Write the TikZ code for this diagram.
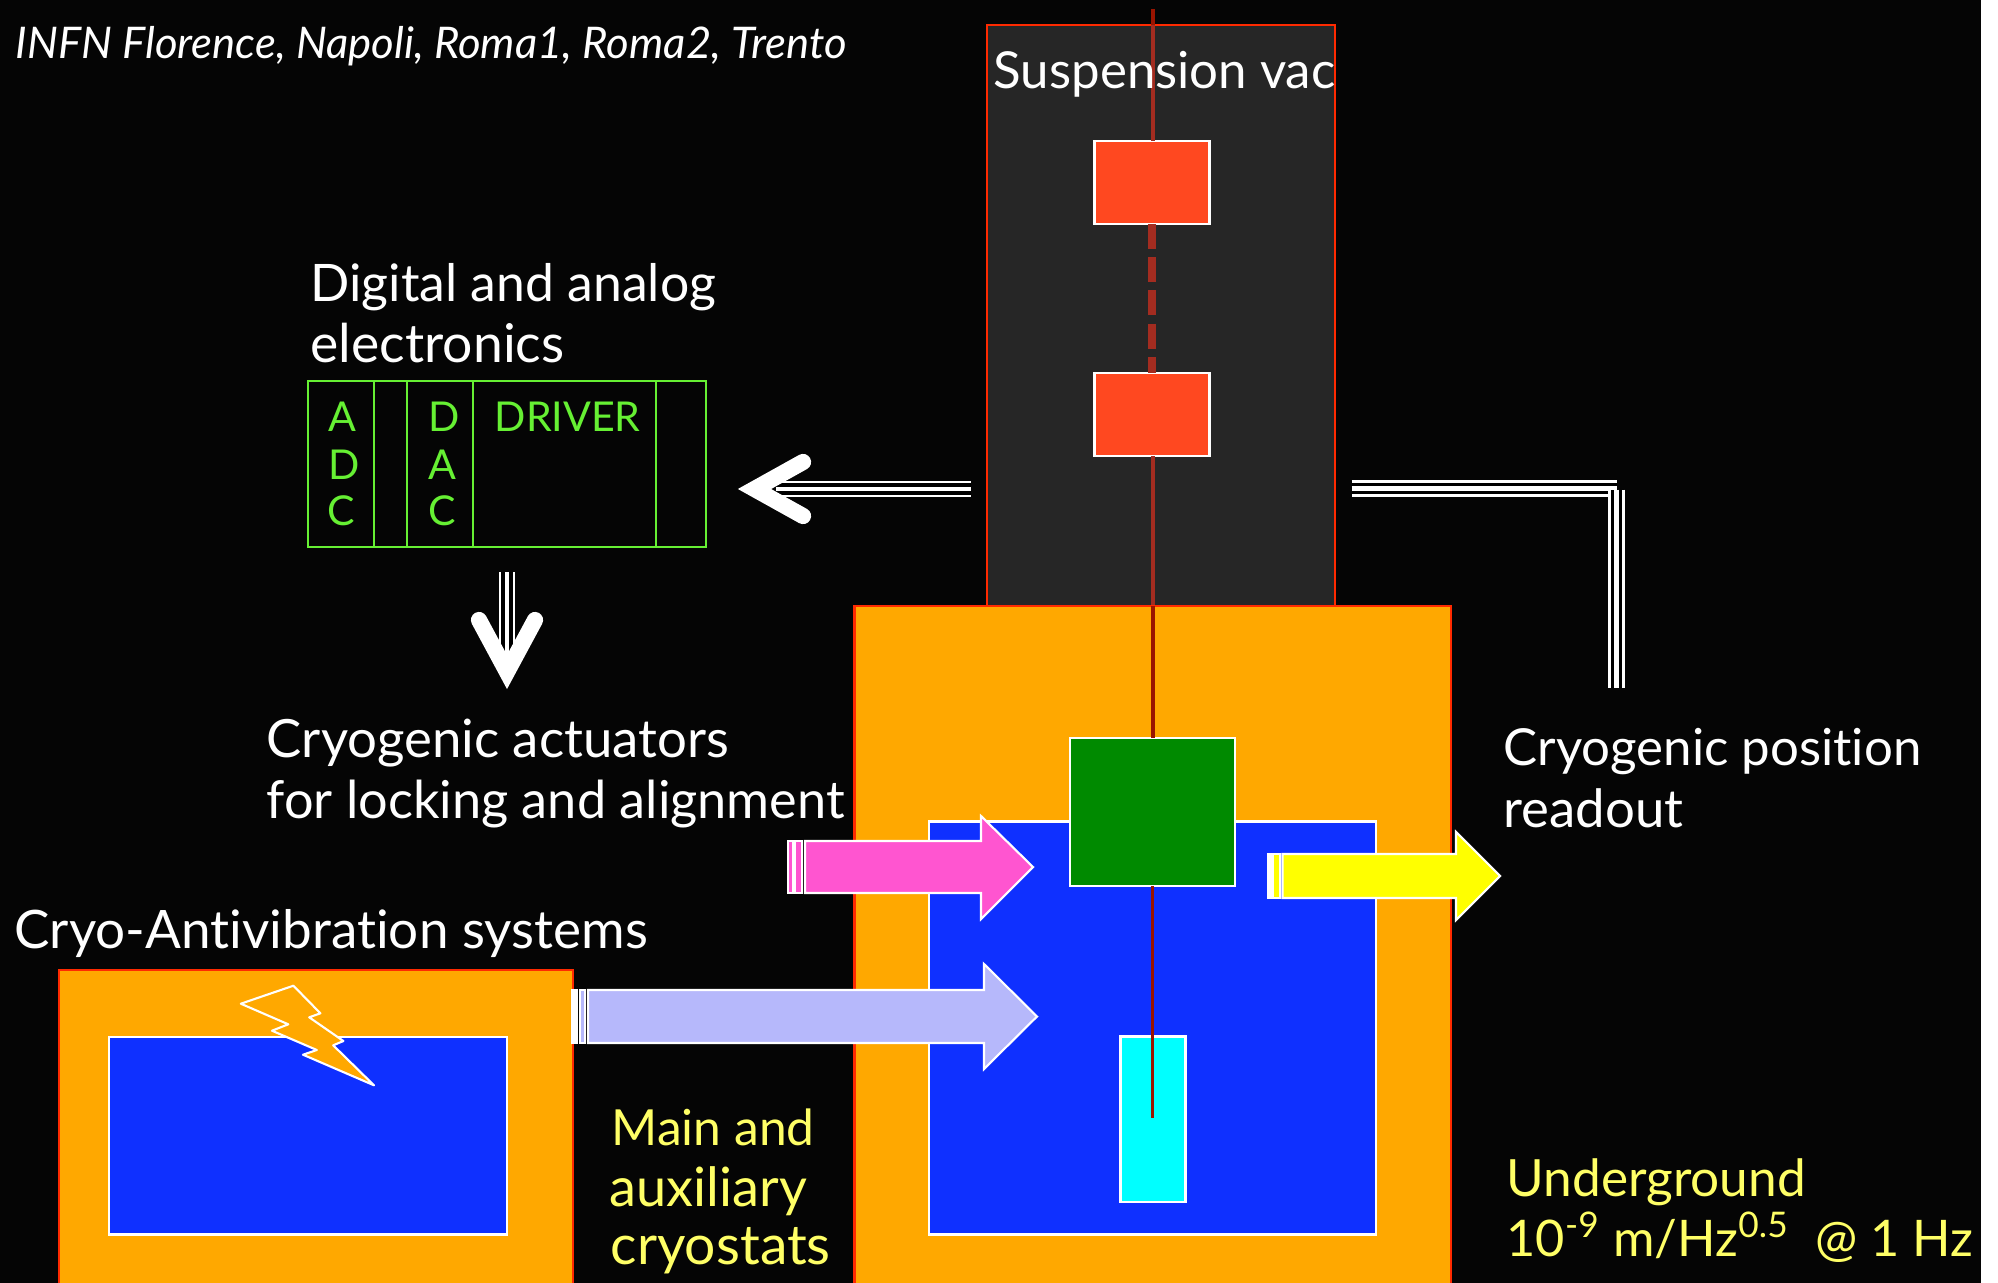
\documentclass[tikz,border=0pt]{standalone}
\usepackage{fontspec}
\setmainfont[Ligatures=NoCommon]{Lato}
\usepackage{tikz}
\usetikzlibrary{calc}
\usetikzlibrary{arrows.meta}
\definecolor{cryoorange}{HTML}{FFA800}
\definecolor{cryoblue}{HTML}{0F30FF}
\definecolor{vacgrey}{HTML}{262626}
\definecolor{rimred}{HTML}{FF2A00}
\definecolor{massred}{HTML}{FF4820}
\definecolor{wirered}{HTML}{A32C20}
\definecolor{wiredark}{HTML}{9A1400}
\definecolor{stagegreen}{HTML}{008A00}
\definecolor{mirrorcyan}{HTML}{00FFFF}
\definecolor{pinkfill}{HTML}{FF55D0}
\definecolor{lavfill}{HTML}{B6B8FB}
\definecolor{yelfill}{HTML}{FFFF00}
\definecolor{txtgreen}{HTML}{66F033}
\definecolor{txtyellow}{HTML}{FFFF66}
\tikzset{
  solidarrow/.style={draw=white,line width=0.6pt,line join=miter},
  triple/.style={preaction={draw=white,line width=4.7pt},preaction={draw=black,line width=3.2pt},draw=white,line width=1.4pt},
  head/.style={white,line width=4.6pt,line cap=round,line join=miter},
  lbl/.style={anchor=base west,inner sep=0pt,text=white,font=\fontsize{#1}{17}\selectfont},
  lbl/.default=14.5,
  ylbl/.style={lbl=#1,text=txtyellow},
  ylbl/.default=14.5,
  glbl/.style={lbl=11.7,text=txtgreen},
}
\begin{document}
\begin{tikzpicture}[x=0.01cm,y=-0.01cm]
      \useasboundingbox (0,0) rectangle (1998,1282);
      \fill [white] (0,-5) rectangle (2005,1290);
      \fill [black!98] (-5,-5) rectangle (1981,1290);
      % suspension tower
      \filldraw [fill=vacgrey,draw=rimred,line width=0.5pt] (987,25) rectangle (1335,606);
      \coordinate (wiretop) at (1153,9);
      \coordinate (wirein) at (1153,25);
      \coordinate (tubetop) at (1153,606);
      \node (m1) [draw=white,fill=massred,line width=0.6pt,minimum width=115*0.2845pt,minimum height=83*0.2845pt,inner sep=0pt,outer sep=0pt] at (1152,182.5) {};
      \node (m2) [draw=white,fill=massred,line width=0.6pt,minimum width=115*0.2845pt,minimum height=83*0.2845pt,inner sep=0pt,outer sep=0pt] at (1152,414.5) {};
      \draw [wiredark,line width=1.2pt] (wiretop) -- (wirein);
      \draw [wirered,line width=1.2pt] (wirein) -- (m1.north -| wiretop);
      \draw [wirered,line width=2.4pt,dash pattern=on 7.1pt off 2.35pt] (m1.south) -- (m2.north);
      \draw [wirered,line width=1.2pt] (m2.south -| wiretop) -- (tubetop);
      % main cryostat
      \filldraw [fill=cryoorange,draw=rimred,line width=0.7pt] (854.5,606) rectangle (1451,1290);
      \filldraw [fill=cryoblue,draw=white,line width=0.6pt] (929,821.5) rectangle (1376,1234.5);
      \node (stage) [draw=white,fill=stagegreen,line width=0.6pt,minimum width=165*0.2845pt,minimum height=148*0.2845pt,inner sep=0pt,outer sep=0pt] at (1152.5,812) {};
      \node (mirror) [draw=white,fill=mirrorcyan,line width=0.6pt,minimum width=65*0.2845pt,minimum height=165*0.2845pt,inner sep=0pt,outer sep=0pt] at (1153,1119) {};
      \draw [wiredark,line width=1.2pt] (tubetop) -- (stage.north -| wiretop);
      \coordinate (wireend) at (1152.5,1118);
      \draw [wiredark,line width=0.6pt] (stage.south) -- (wireend);
      % auxiliary cryostat
      \filldraw [fill=cryoorange,draw=rimred,line width=0.7pt] (59,970) rectangle (573,1290);
      \filldraw [fill=cryoblue,draw=white,line width=0.6pt] (109,1037) rectangle (507,1234.5);
      \filldraw [fill=cryoorange,draw=white,line width=0.6pt,line join=round] (293.4,985.7) -- (240.8,1003.7) -- (288.3,1024.3) -- (272,1030.7) -- (316.8,1050) -- (303,1054.7) -- (374,1085.3) -- (333.2,1045.3) -- (343.4,1041) -- (309.2,1017.3) -- (320.4,1013.3) -- cycle;
      % block arrows
      \filldraw [solidarrow,fill=pinkfill] (805,841) -- (981,841) -- (981,816) -- (1033,867) -- (981,919) -- (981,893) -- (805,893) -- cycle;
      \filldraw [solidarrow,fill=pinkfill] (795,841) rectangle (802,893);
      \filldraw [solidarrow,fill=pinkfill] (788,841) rectangle (793,893);
      \filldraw [solidarrow,fill=yelfill] (1282.5,854) -- (1456,854) -- (1456,832) -- (1500,876) -- (1456,920) -- (1456,898) -- (1282.5,898) -- cycle;
      \filldraw [solidarrow,fill=yelfill] (1273,854) rectangle (1280,898);
      \filldraw [solidarrow,fill=white] (1268,854) rectangle (1271,898);
      \filldraw [solidarrow,fill=lavfill] (588,990) -- (984,990) -- (984,964) -- (1037,1016.5) -- (984,1069) -- (984,1043) -- (588,1043) -- cycle;
      \filldraw [solidarrow,fill=lavfill] (580,990) rectangle (585,1043);
      \filldraw [solidarrow,fill=white] (572.5,990) rectangle (577,1043);
      % electronics rack
      \node (rack) [draw=txtgreen,line width=0.6pt,minimum width=398*0.2845pt,minimum height=166*0.2845pt,inner sep=0pt,outer sep=0pt] at (506.8,463.7) {};
      \foreach \xdiv in {374,407,473,656}
        \draw [txtgreen,line width=0.6pt] (\xdiv,381) -- (\xdiv,547);
      \node (adc1) [glbl] at (328,431) {A};
      \node (adc2) [glbl] at (328,479) {D};
      \node (adc3) [glbl] at (327,525) {C};
      \node (dac1) [glbl] at (427.5,431) {D};
      \node (dac2) [glbl] at (427.5,479) {A};
      \node (dac3) [glbl] at (427.5,525) {C};
      \node (drv) [glbl] at (494,431) {DRIVER};
      % signal lines
      \coordinate (towerl) at (970.5,489);
      \coordinate (rackr) at (776,489);
      \coordinate (rackb) at (507,572);
      \coordinate (actop) at (507,672);
      \coordinate (towerr) at (1351.5,488.5);
      \coordinate (bendh) at (1616.5,488.5);
      \coordinate (bendv) at (1616.5,489.5);
      \coordinate (readtop) at (1616.5,688);
      \draw [triple] (towerl) -- (rackr);
      \draw [triple] (rackb) -- (actop);
      \draw [triple] (towerr) -- (bendh);
      \draw [triple] (bendv) -- (readtop);
      \coordinate (tipl) at (754.5,489);
      \coordinate (tipd) at (507,672);
      \draw [head] (803,462) -- (tipl) -- (803,516);
      \draw [head] (479,620) -- (tipd) -- (535,620);
      % labels
      \node (infn) [lbl,font=\fontsize{12.4}{15}\selectfont\itshape] at (15,59) {INFN Florence, Napoli, Roma1, Roma2, Trento};
      \node (susp) [lbl] at (993,88.5) {Suspension vac};
      \node (dig1) [lbl=14.7] at (310,301) {Digital and analog};
      \node (dig2) [lbl=15.2] at (310,362) {electronics};
      \node (act1) [lbl=15] at (266,757) {Cryogenic actuators};
      \node (act2) [lbl=14.86] at (266,818) {for locking and alignment};
      \node (read1) [lbl] at (1503,765) {Cryogenic position};
      \node (read2) [lbl=15] at (1503,827) {readout};
      \node (anti) [lbl=15.08] at (14,948) {Cryo-Antivibration systems};
      \node (main1) [ylbl=14.15] at (611,1145) {Main and};
      \node (main2) [ylbl=15.4] at (609,1206.5) {auxiliary};
      \node (main3) [ylbl=15.7] at (610,1264) {cryostats};
      \node (ug1) [ylbl=14.6] at (1506,1196) {Underground};
      \node (ug2) [ylbl=14.34] at (1506,1256) {10\textsuperscript{-9} m/Hz\textsuperscript{0.5}\ \ @ 1 Hz};
    \end{tikzpicture}
\end{document}
